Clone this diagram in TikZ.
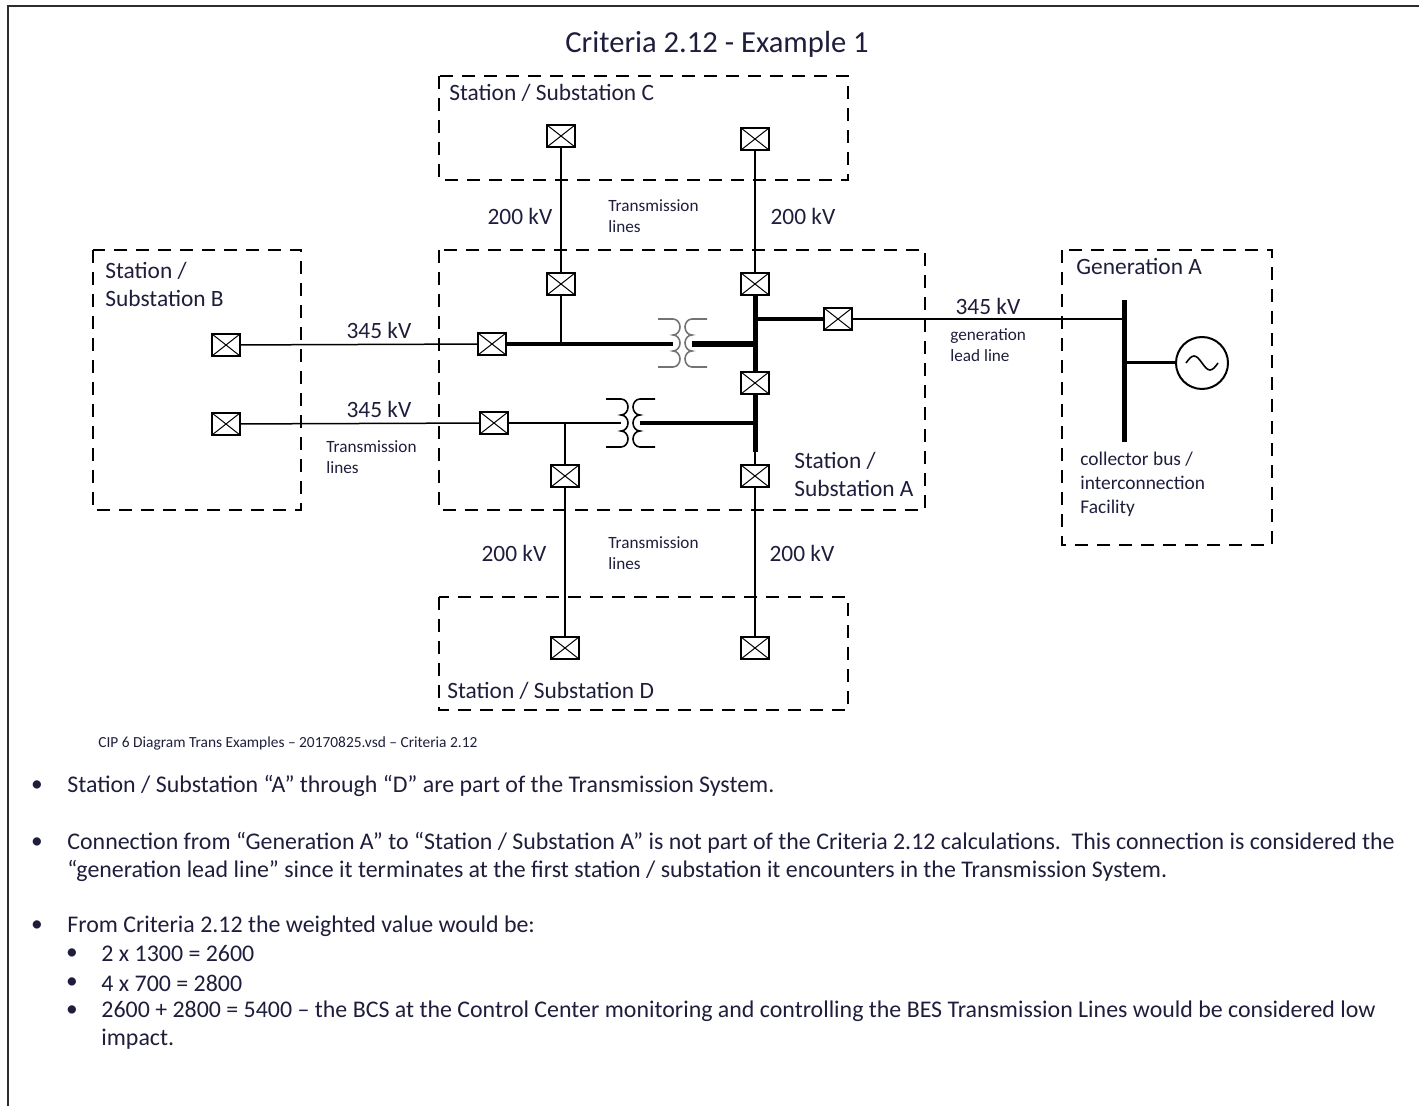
\documentclass[tikz,border=0pt]{standalone}
\usepackage{fontspec}
\setmainfont{Carlito}
\usetikzlibrary{positioning,calc}
\definecolor{txt}{RGB}{30,30,60}
\definecolor{framec}{RGB}{45,45,45}
\tikzset{
  station/.style={draw, line width=0.9pt, dash pattern=on 6.5pt off 4.5pt},
  breaker/.style={draw, fill=white, line width=1pt, minimum width=14pt, minimum height=11pt, inner sep=0pt,
    path picture={\draw[line width=0.5pt] (path picture bounding box.south west) -- (path picture bounding box.north east)
      (path picture bounding box.north west) -- (path picture bounding box.south east);}},
  lbl/.style={text=txt, inner sep=0pt, anchor=west, align=left, font=\fontsize{11.7}{14}\selectfont},
  note/.style={lbl, font=\fontsize{11.95}{14}\selectfont},
  kv/.style={text=txt, inner sep=0pt, font=\fontsize{11.7}{14}\selectfont},
  small/.style={lbl, font=\fontsize{8.6}{10.4}\selectfont},
  line/.style={line width=0.75pt},
  bus/.style={line width=2.5pt},
}

\begin{document}
\begin{tikzpicture}[x={(0.5pt,0)}, y={(0,-0.5pt)}]
		\useasboundingbox (0,0) rectangle (1419,1106);
		\draw[framec, line width=1.1pt] (8,1106) -- (8,6) -- (1419,6);
		\node[text=txt, font=\fontsize{15.3}{18}\selectfont] (title) at (717,44) {Criteria 2.12 - Example 1};
		% station boxes
		\draw[station] (439,76) rectangle (848,180);
		\draw[station] (439,250) rectangle (925,510);
		\draw[station] (93,250) rectangle (301,510);
		\draw[station] (1062,250) rectangle (1272,545);
		\draw[station] (439,597) rectangle (848,710);
		\node[lbl] (nC) at (449,93) {Station / Substation C};
		\node[lbl] (nA) at (794,474) {Station /\\Substation A};
		\node[lbl] (nB) at (105,284) {Station /\\Substation B};
		\node[lbl] (nD) at (447,691) {Station / Substation D};
		\node[lbl] (nG) at (1076,267) {Generation A};
		\node[lbl, font=\fontsize{9.7}{12}\selectfont] (nF) at (1080,484) {collector bus /\\interconnection\\Facility};
		% breakers
		\foreach \n/\x/\y in {c1/561/136, c2/755/139, a1/561/284, a2/755/284, a3/492/344, a4/494/423, a5/755/383, a6/565/476, a7/755/476, a8/838/319, b1/226/345, b2/226/424, d1/565/648, d2/755/648}
			\node[breaker] (\n) at (\x,\y) {};
		% transformers
		\foreach \x/\y/\c in {673/319/black!55, 621/399/black} {
			\draw[\c, line width=0.8pt] (\x-15,\y) -- (\x,\y) arc[start angle=-90, end angle=90, x radius=7, y radius=8] arc[start angle=-90, end angle=90, x radius=7, y radius=8] arc[start angle=-90, end angle=90, x radius=7, y radius=8] -- ++(-15,0);
			\draw[\c, line width=0.8pt] (\x+34,\y) -- (\x+19,\y) arc[start angle=-90, end angle=-270, x radius=7, y radius=8] arc[start angle=-90, end angle=-270, x radius=7, y radius=8] arc[start angle=-90, end angle=-270, x radius=7, y radius=8] -- ++(15,0);
		}
		\coordinate (t1l) at (673,344);
		\coordinate (t1r) at (692,344);
		\coordinate (t2l) at (621,423);
		\coordinate (t2r) at (640,423);
		\coordinate (bj) at (755,452);
		\coordinate (gb) at (1124,319);
		% lines
		\draw[line] (c1) -- (a1);
		\draw[line] (c2) -- (a2);
		\draw[line] (a1) -- (a1 |- a3);
		\draw[line] (b1) -- (a3);
		\draw[line width=2pt] (a3) -- (t1l);
		\draw[line width=3pt] (t1r) -- (t1r -| a5);
		\draw[line] (b2) -- (a4);
		\draw[line width=1.3pt] (a4) -- (t2l);
		\draw[line width=2pt] (t2r) -- (t2r -| a5);
		\draw[line] (a6 |- a4) -- (a6);
		\draw[bus] (a2) -- (a5) -- (bj);
		\draw[line] (bj) -- (a7);
		\draw[line] (a6) -- (d1);
		\draw[line] (a7) -- (d2);
		\draw[line width=2pt] (a8 -| a5) -- (a8);
		\draw[line] (a8) -- (gb);
		% generation A
		\draw[bus] (1124,300) -- (1124,442);
		\node[draw, circle, line width=1pt, minimum size=26pt, inner sep=0pt] (gen) at (1202,363) {};
		\draw[line width=1.5pt] (gen -| gb) -- (gen);
		\draw[line width=0.8pt] ($(gen)+(-16,0)$) sin ++(8,-7) cos ++(8,7) sin ++(8,7) cos ++(8,-7);
		% voltage labels
		\node[kv] at (379,330) {345 kV};
		\node[kv] at (379,409) {345 kV};
		\node[kv] at (520,216) {200 kV};
		\node[kv] at (803,216) {200 kV};
		\node[kv] at (514,553) {200 kV};
		\node[kv] at (802,553) {200 kV};
		\node[kv] at (988,306) {345 kV};
		\node[small] at (608,216) {Transmission\\lines};
		\node[small] at (608,553) {Transmission\\lines};
		\node[small] at (326,457) {Transmission\\lines};
		\node[small] at (950,345) {generation\\lead line};
		% notes
		\node[lbl, font=\fontsize{7.7}{9}\selectfont] (cap) at (98,743) {CIP 6 Diagram Trans Examples – 20170825.vsd – Criteria 2.12};
		\foreach \y in {786,843,926} \node[kv] at (37,\y) {•};
		\foreach \y in {954,983,1011} \node[kv] at (72,\y) {•};
		\node[note] at (67,786) {Station / Substation “A” through “D” are part of the Transmission System.};
		\node[note] at (67,843) {Connection from “Generation A” to “Station / Substation A” is not part of the Criteria 2.12 calculations.~~This connection is considered the};
		\node[note] at (67,871) {“generation lead line” since it terminates at the first station / substation it encounters in the Transmission System.};
		\node[note] at (67,926) {From Criteria 2.12 the weighted value would be:};
		\node[note] at (101,954) {2 x 1300 = 2600};
		\node[note] at (101,983) {4 x 700 = 2800};
		\node[note] at (101,1011) {2600 + 2800 = 5400 – the BCS at the Control Center monitoring and controlling the BES Transmission Lines would be considered low};
		\node[note] at (101,1039) {impact.};
\end{tikzpicture}
\end{document}
